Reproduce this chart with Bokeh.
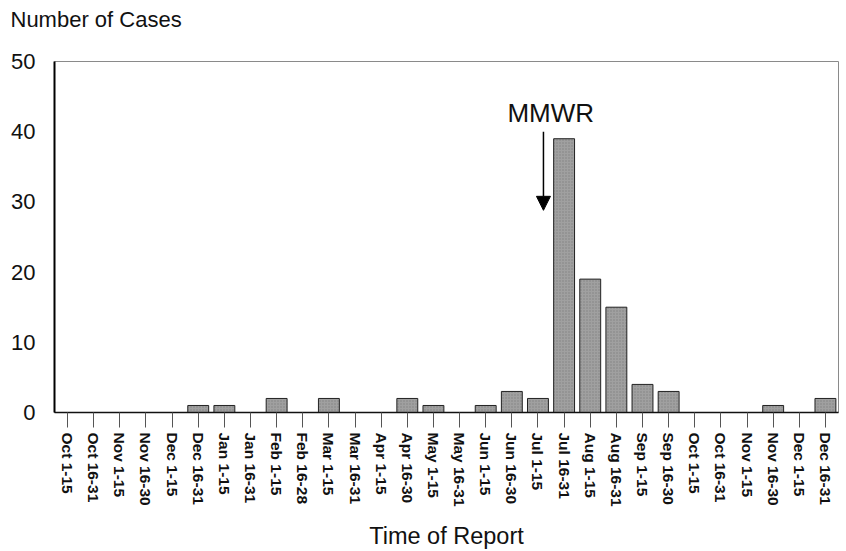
from bokeh.plotting import figure
from bokeh.models import Range1d, FixedTicker, Label, Arrow, NormalHead, Title
from bokeh.embed import file_html
from bokeh.resources import INLINE

periods = ["Oct 1-15", "Oct 16-31", "Nov 1-15", "Nov 16-30", "Dec 1-15", "Dec 16-31",
           "Jan 1-15", "Jan 16-31", "Feb 1-15", "Feb 16-28", "Mar 1-15", "Mar 16-31",
           "Apr 1-15", "Apr 16-30", "May 1-15", "May 16-31", "Jun 1-15", "Jun 16-30",
           "Jul 1-15", "Jul 16-31", "Aug 1-15", "Aug 16-31", "Sep 1-15", "Sep 16-30",
           "Oct 1-15", "Oct 16-31", "Nov 1-15", "Nov 16-30", "Dec 1-15", "Dec 16-31"]
cases = [0, 0, 0, 0, 0, 1,
         1, 0, 2, 0, 2, 0,
         0, 2, 1, 0, 1, 3,
         2, 39, 19, 15, 4, 3,
         0, 0, 0, 1, 0, 2]
y_ticks = [0, 10, 20, 30, 40, 50]

positions = list(range(len(periods)))
FONT = "Liberation Sans"

p = figure(width=839, height=551, output_backend="svg", toolbar_location=None,
           x_range=Range1d(-0.5, len(periods) - 0.5), y_range=Range1d(0, 50),
           min_border_left=54, min_border_right=1, min_border_top=61, min_border_bottom=139)

p.vbar(x=positions, top=cases, width=0.8, bottom=0,
       fill_color="#a0a0a0", line_color="#222222", line_width=1,
       hatch_pattern="dot", hatch_color="#6a6a6a", hatch_scale=3, hatch_alpha=0.6)

p.grid.visible = False
p.outline_line_color = "#8a8a8a"
p.outline_line_width = 1

p.title.text = "Number of Cases"
p.title.align = "left"
p.title.offset = -44
p.title.standoff = 0
p.title.text_font = FONT
p.title.text_font_size = "22px"
p.title.text_font_style = "normal"
p.title.text_color = "#111111"
# spacer title between the frame and the real title
p.add_layout(Title(text=" ", text_font=FONT, text_font_size="25px", standoff=0), "above")

xa = p.xaxis[0]
xa.ticker = FixedTicker(ticks=positions)
xa.major_label_overrides = {i: lab for i, lab in enumerate(periods)}
xa.major_label_orientation = "vertical"
xa.major_label_text_font = FONT
xa.major_label_text_font_style = "bold"
xa.major_label_text_font_size = "15.5px"
xa.major_label_text_color = "#111111"
xa.major_label_standoff = 5
xa.major_tick_out = 15
xa.major_tick_in = 0
xa.major_tick_line_color = "#555555"
xa.minor_tick_line_color = None
xa.axis_line_color = "#111111"
xa.axis_line_width = 1.5
xa.axis_label = "Time of Report"
xa.axis_label_text_font = FONT
xa.axis_label_text_font_size = "23.5px"
xa.axis_label_text_font_style = "normal"
xa.axis_label_text_color = "#111111"
xa.axis_label_standoff = 13

ya = p.yaxis[0]
ya.ticker = FixedTicker(ticks=y_ticks)
ya.major_label_text_font = FONT
ya.major_label_text_font_size = "22px"
ya.major_label_text_color = "#111111"
ya.major_label_standoff = 19
ya.major_tick_out = 0
ya.major_tick_in = 0
ya.minor_tick_line_color = None
ya.axis_line_color = "#000000"
ya.axis_line_width = 2

p.add_layout(Label(x=18.49, y=42.6, text="MMWR", text_font=FONT,
                   text_font_size="26px", text_color="#111111", text_align="center",
                   text_baseline="alphabetic"))
p.add_layout(Arrow(x_start=18.21, y_start=40.0, x_end=18.21, y_end=28.8,
                   line_color="#000000", line_width=1.5,
                   end=NormalHead(size=14, fill_color="#000000", line_color="#000000")))

open("out.html", "w").write(file_html(p, INLINE))
